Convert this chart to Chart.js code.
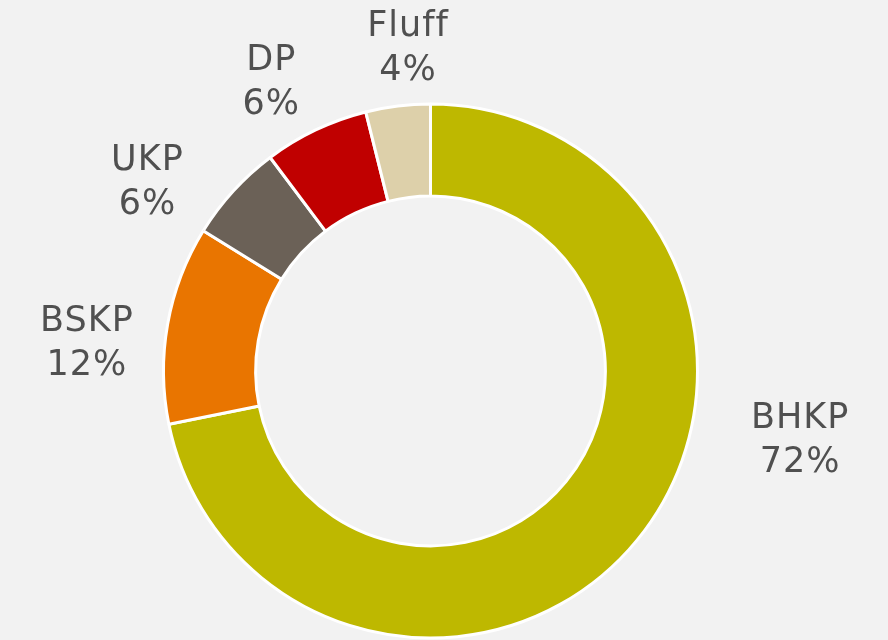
<!DOCTYPE html>
<html>
<head>
<meta charset="utf-8">
<script src="https://cdn.jsdelivr.net/npm/chart.js@4"></script>
<style>
  html, body { margin: 0; padding: 0; background: #F2F2F2; }
  #wrap { width: 888px; height: 640px; }
</style>
</head>
<body>
<div id="wrap"><canvas id="c" width="888" height="640"></canvas></div>
<script>
const categories = ['BHKP', 'BSKP', 'UKP', 'DP', 'Fluff'];
const shares = [71.8, 12.0, 5.95, 6.35, 3.9];
const colors = ['#BEB800', '#E97500', '#6B6157', '#C00000', '#DDD0AA'];

// label placement: angle (deg clockwise from top) and distance in outer radii
const labelPlacement = [
  { angle: 100.1, dist: 1.406 },
  { angle: 275.2, dist: 1.292 },
  { angle: 304.2, dist: 1.282 },
  { angle: 331.4, dist: 1.246 },
  { angle: 356.05, dist: 1.224 }
];

const outsideLabels = {
  id: 'outsideLabels',
  afterDatasetsDraw(chart) {
    const ctx = chart.ctx;
    const meta = chart.getDatasetMeta(0);
    const total = shares.reduce((a, b) => a + b, 0);
    ctx.save();
    ctx.fillStyle = '#505050';
    ctx.font = '35px "DejaVu Sans"';
    ctx.textAlign = 'center';
    ctx.textBaseline = 'alphabetic';
    try { ctx.letterSpacing = '1px'; } catch (e) {}
    meta.data.forEach((arc, i) => {
      const p = labelPlacement[i];
      const a = p.angle * Math.PI / 180;
      const r = arc.outerRadius * p.dist;
      const cx = arc.x + Math.sin(a) * r;
      const cy = arc.y - Math.cos(a) * r;
      const pct = Math.round(shares[i] / total * 100) + '%';
      ctx.fillText(categories[i], cx, cy - 9);
      ctx.fillText(pct, cx, cy + 35);
    });
    ctx.restore();
  }
};

new Chart(document.getElementById('c'), {
  type: 'doughnut',
  data: {
    labels: categories,
    datasets: [{
      data: shares,
      backgroundColor: colors,
      borderColor: '#FFFFFF',
      borderWidth: 3,
      hoverOffset: 0
    }]
  },
  options: {
    responsive: false,
    animation: false,
    cutout: '65.5%',
    layout: { padding: { top: 102.5, bottom: 0.5, left: 0, right: 27 } },
    plugins: {
      legend: { display: false },
      tooltip: { enabled: false }
    }
  },
  plugins: [outsideLabels]
});
</script>
</body>
</html>
